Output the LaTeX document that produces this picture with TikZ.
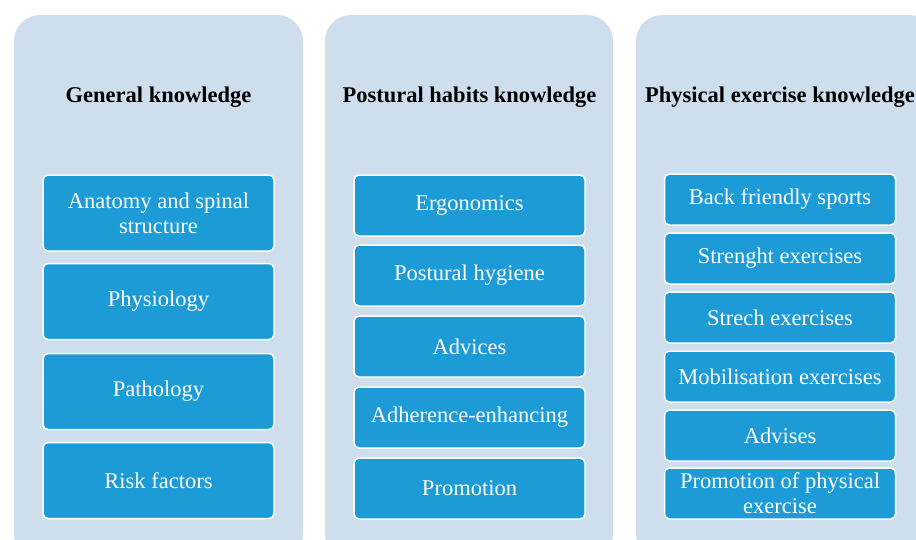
\documentclass[tikz,border=0pt]{standalone}
\usepackage{fontspec}
\setmainfont{Liberation Serif}
\usetikzlibrary{positioning}
\definecolor{panelBlue}{RGB}{206,222,237}
\definecolor{topicBlue}{RGB}{28,155,215}

\tikzset{
  panel/.style={fill=panelBlue, draw=none, rounded corners=26pt},
  heading/.style={font=\bfseries\fontsize{22.5}{25}\selectfont, text=black},
  topic/.style={draw=white, line width=1.5pt, fill=topicBlue, rounded corners=5pt,
    text=white, font=\fontsize{22.5}{25}\selectfont, align=center,
    minimum width=231pt, inner sep=0pt},
}

\begin{document}
\begin{tikzpicture}[x=1pt, y=-1pt]
  \useasboundingbox (0,0) rectangle (916,539);
  \clip (0,0) rectangle (916,539);
  % Column panels
  \fill[panel] (14,15) rectangle (303,560);
  \fill[panel] (325,15) rectangle (613,560);
  \fill[panel] (636,15) rectangle (935,560);
  % Column headings
  \node[heading] (general) at (158.5,97) {General knowledge};
  \node[heading] (postural) at (469.5,97) {Postural habits knowledge};
  \node[heading] (exercise) at (780,97) {Physical exercise knowledge};
  % General knowledge topics
  \node[topic, minimum height=76pt] (anatomy) at (158.5,213) {Anatomy and spinal\\structure};
  \node[topic, minimum height=76pt] (physiology) at (158.5,301.5) {Physiology};
  \node[topic, minimum height=76pt] (pathology) at (158.5,391.5) {Pathology};
  \node[topic, minimum height=76pt] (risk) at (158.5,480.5) {Risk factors};
  % Postural habits topics
  \node[topic, minimum height=61pt] (ergonomics) at (469.5,205.5) {Ergonomics};
  \node[topic, minimum height=61pt] (hygiene) at (469.5,275.5) {Postural hygiene};
  \node[topic, minimum height=61pt] (advices) at (469.5,346.5) {Advices};
  \node[topic, minimum height=61pt] (adherence) at (469.5,417.5) {Adherence-enhancing};
  \node[topic, minimum height=61pt] (promotion) at (469.5,488.5) {Promotion};
  % Physical exercise topics
  \node[topic, minimum height=51pt] (sports) at (780,199.5) {Back friendly sports};
  \node[topic, minimum height=51pt] (strength) at (780,258.5) {Strenght exercises};
  \node[topic, minimum height=51pt] (stretch) at (780,317.5) {Strech exercises};
  \node[topic, minimum height=51pt] (mobilisation) at (780,376.5) {Mobilisation exercises};
  \node[topic, minimum height=51pt] (advises) at (780,435.5) {Advises};
  \node[topic, minimum height=51pt] (promophys) at (780,493.5) {Promotion of physical\\exercise};
\end{tikzpicture}
\end{document}
